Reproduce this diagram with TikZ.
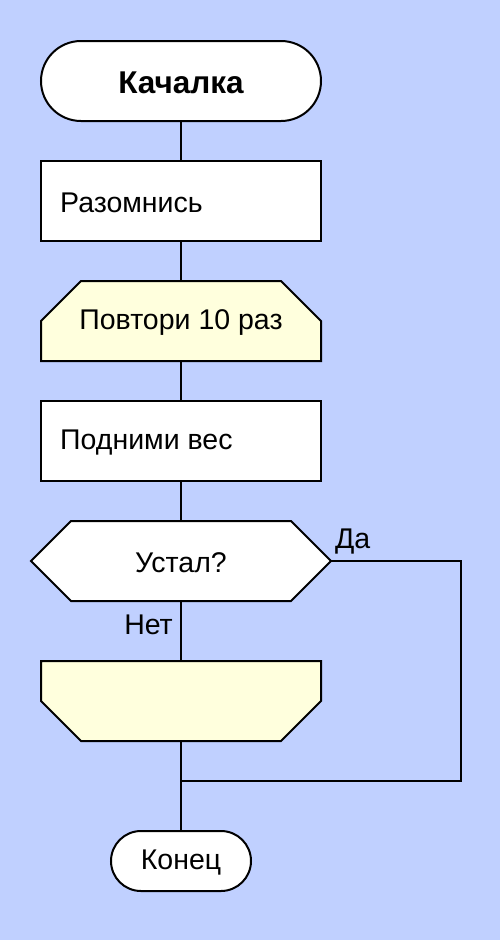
\documentclass[tikz,border=0pt]{standalone}
\usepackage{fontspec}
\setmainfont{Liberation Sans}
\definecolor{bg}{HTML}{C0D0FF}
\definecolor{loopfill}{HTML}{FFFFDD}
\tikzset{
  ln/.style={line width=2pt, draw=black},
  lbl/.style={font=\fontsize{28.5}{33}\selectfont, inner sep=0pt},
  clbl/.style={lbl, yshift=-1.5pt},
}
\begin{document}
\begin{tikzpicture}[x=1pt,y=-1pt]
\fill[bg] (0,0) rectangle (500,940);
\useasboundingbox (0,0) rectangle (500,940);
% connectors first (behind shapes)
\coordinate (j1) at (461,561);
\coordinate (j2) at (461,781);
\coordinate (j3) at (181,781);
\draw[ln] (181,121) -- (181,161);
\draw[ln] (181,241) -- (181,281);
\draw[ln] (181,361) -- (181,401);
\draw[ln] (181,481) -- (181,521);
\draw[ln] (181,601) -- (181,661);
\draw[ln] (181,741) -- (181,831);
\draw[ln] (331,561) -- (j1) -- (j2) -- (j3);
% start
\draw[ln, fill=white, rounded corners=40pt] (41,41) rectangle (321,121);
\node[clbl, font=\fontsize{31.5}{36}\selectfont\bfseries] (start) at (181,81) {Качалка};
% process 1
\draw[ln, fill=white] (41,161) rectangle (321,241);
\node[clbl, anchor=west] (p1) at (60,201) {Разомнись};
% loop start
\draw[ln, fill=loopfill] (41,361) -- (41,321) -- (81,281) -- (281,281) -- (321,321) -- (321,361) -- cycle;
\node[clbl] (ls) at (181,321) {Повтори 10 раз};
% process 2
\draw[ln, fill=white] (41,401) rectangle (321,481);
\node[clbl, anchor=west] (p2) at (60,441) {Подними вес};
% decision
\draw[ln, fill=white] (31,561) -- (71,521) -- (291,521) -- (331,561) -- (291,601) -- (71,601) -- cycle;
\node[clbl] (dec) at (181,561) {Устал?};
\node[lbl, anchor=base west] (yes) at (335,548) {Да};
\node[lbl, anchor=base east] (no) at (173,634) {Нет};
% loop end
\draw[ln, fill=loopfill] (41,661) -- (321,661) -- (321,701) -- (281,741) -- (81,741) -- (41,701) -- cycle;
% end
\draw[ln, fill=white, rounded corners=30pt] (111,831) rectangle (251,891);
\node[clbl] (end) at (181,861) {Конец};
\end{tikzpicture}
\end{document}
